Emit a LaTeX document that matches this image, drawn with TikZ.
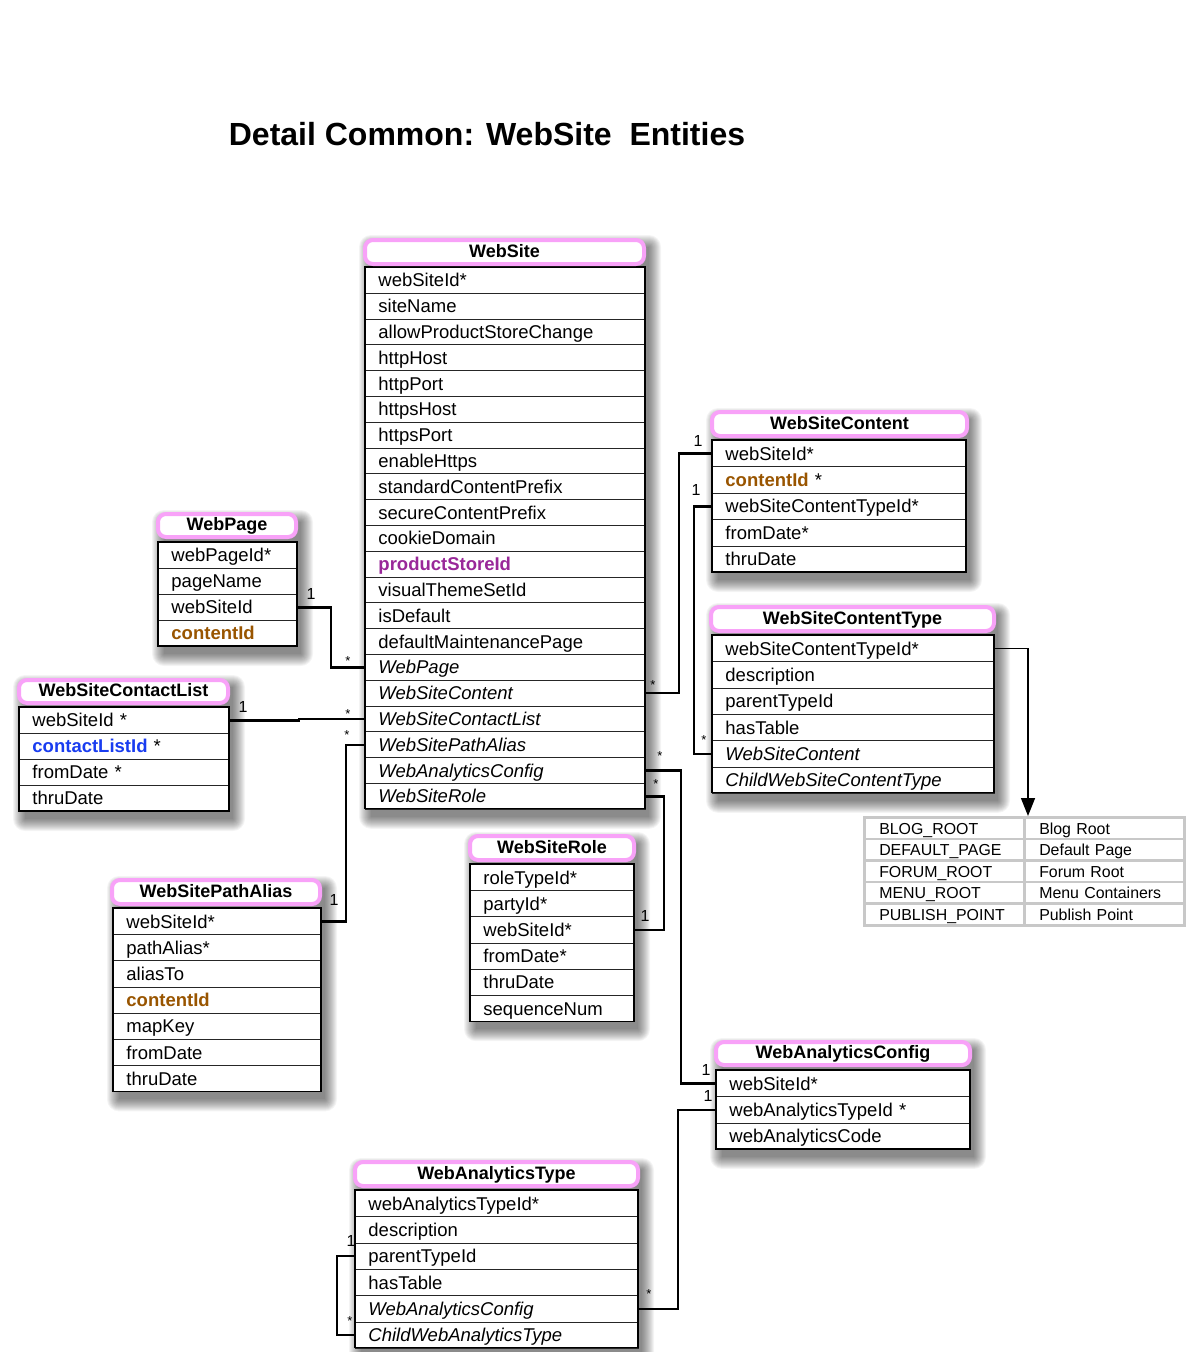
\documentclass[tikz,border=0pt]{standalone}
\usepackage{fontspec}
\setmainfont{Liberation Sans}
\usetikzlibrary{arrows.meta}
\definecolor{hpink}{RGB}{248,162,248}
\definecolor{cbrown}{RGB}{153,85,0}
\definecolor{cpurple}{RGB}{153,40,153}
\definecolor{cblue}{RGB}{25,60,240}
\definecolor{tgrey}{RGB}{200,200,200}
\pgfdeclarelayer{background}
\pgfdeclarelayer{canvas}
\pgfsetlayers{canvas,background,main}
\tikzset{
 hdr/.style={draw=hpink, line width=4pt, rounded corners=8pt, fill=white, font=\fontsize{18}{20}\selectfont\bfseries, inner sep=0pt, text height=12pt, text depth=2pt},
 row/.style={draw=black!85, line width=0.9pt, fill=white, inner xsep=13pt, inner ysep=0pt, align=left, font=\fontsize{18.5}{20}\selectfont, text height=14pt, text depth=1pt},
 outerbox/.style={draw=black, line width=1.3pt},
 conn/.style={draw=black, line width=2.4pt},
 one/.style={font=\fontsize{16}{18}\selectfont, inner sep=0pt},
 many/.style={font=\fontsize{13}{15}\selectfont, inner sep=0pt, yshift=-3pt},
 cell/.style={draw=tgrey, line width=2.5pt, fill=white, minimum width=160pt, minimum height=21.6pt, text width=130pt, inner xsep=15pt, inner ysep=0pt, align=left, anchor=north west, font=\fontsize{15.9}{17}\selectfont, text height=12pt, text depth=0pt},
 arr/.style={draw=black, line width=1.5pt, -{Triangle[width=14pt,length=18pt]}},
}
\newcommand\ehdr[6]{\node[hdr, minimum width=#4pt, minimum height=#5pt] (#1) at (#2,#3) {#6};}
\newcommand\ebody[7]{%
 \pgfmathsetmacro\etw{#4-26}%
 \pgfmathsetmacro\ebot{#3+#6*#5}%
 \begin{pgfonlayer}{background}
  \foreach \k in {0,...,12}{\fill[black, opacity=0.042, rounded corners=\k pt] ({#2+6-\k},{#3-20-\k}) rectangle ({#2+#4+4+\k},{\ebot+8+\k});}
 \end{pgfonlayer}
 \foreach \etxt [count=\i] in {#7}{
   \node[row, text width=\etw pt, minimum height=#5pt, anchor=north west] (#1-\i) at (#2,{#3+(\i-1)*#5}) {\etxt};}
 \draw[outerbox] (#2,#3) rectangle ({#2+#4},\ebot);
}
\begin{document}
\begin{tikzpicture}[x=1pt,y=-1pt]
\begin{pgfonlayer}{canvas}
\fill[white] (0,0) rectangle (1187,1352);
\end{pgfonlayer}
\useasboundingbox (0,0) rectangle (1187,1352);

\node[font=\fontsize{32}{36}\selectfont\bfseries] (title) at (487,134) {Detail Common: WebSite\ \ Entities};

% WebSite
\ebody{ws}{365}{267}{280}{25.8}{21}{webSiteId*, siteName, allowProductStoreChange, httpHost, httpPort, httpsHost, httpsPort, enableHttps, standardContentPrefix, secureContentPrefix, cookieDomain, {\bfseries\color{cpurple}productStoreId}, visualThemeSetId, isDefault, defaultMaintenancePage, {\itshape WebPage}, {\itshape WebSiteContent}, {\itshape WebSiteContactList}, {\itshape WebSitePathAlias}, {\itshape WebAnalyticsConfig}, {\itshape WebSiteRole}}
\ehdr{wsh}{504.5}{252}{279}{24}{WebSite}

% WebPage
\ebody{wp}{158}{542}{139}{26}{4}{webPageId*, pageName, webSiteId, {\bfseries\color{cbrown}contentId}}
\ehdr{wph}{227}{525.5}{138}{23}{WebPage}

% WebSiteContactList
\ebody{wcl}{19}{707}{210}{26}{4}{webSiteId *, {\bfseries\color{cblue}contactListId} *, fromDate *, thruDate}
\ehdr{wclh}{123.5}{691.5}{209}{23}{WebSiteContactList}

% WebSitePathAlias
\ebody{wpa}{113}{908}{208}{26.2}{7}{webSiteId*, pathAlias*, aliasTo, {\bfseries\color{cbrown}contentId}, mapKey, fromDate, thruDate}
\ehdr{wpah}{216}{892}{208}{24}{WebSitePathAlias}

% WebSiteRole
\ebody{wsr}{470}{864}{164}{26.2}{6}{roleTypeId*, partyId*, webSiteId*, fromDate*, thruDate, sequenceNum}
\ehdr{wsrh}{552}{848}{164}{24}{WebSiteRole}

% WebSiteContent
\ebody{wsc}{712}{440}{254}{26.4}{5}{webSiteId*, {\bfseries\color{cbrown}contentId} *, webSiteContentTypeId*, fromDate*, thruDate}
\ehdr{wsch}{839.5}{424}{255}{24}{WebSiteContent}

% WebSiteContentType
\ebody{wsct}{712}{635}{282}{26.3}{6}{webSiteContentTypeId*, description, parentTypeId, hasTable, {\itshape WebSiteContent}, {\itshape ChildWebSiteContentType}}
\ehdr{wscth}{852.5}{619}{283}{24}{WebSiteContentType}

% WebAnalyticsConfig
\ebody{wac}{716}{1070}{254}{26.3}{3}{webSiteId*, webAnalyticsTypeId *, webAnalyticsCode}
\ehdr{wach}{843}{1053.5}{254}{23}{WebAnalyticsConfig}

% WebAnalyticsType
\ebody{wat}{355}{1190}{283}{26.3}{6}{webAnalyticsTypeId*, description, parentTypeId, hasTable, {\itshape WebAnalyticsConfig}, {\itshape ChildWebAnalyticsType}}
\ehdr{wath}{496.5}{1174}{283}{24}{WebAnalyticsType}

% value table
\foreach \a/\b [count=\i] in {BLOG\_ROOT/Blog Root, DEFAULT\_PAGE/Default Page, FORUM\_ROOT/Forum Root, MENU\_ROOT/Menu Containers, PUBLISH\_POINT/Publish Point}{
  \node[cell] (tv-\i) at (863,{816+(\i-1)*21.6}) {\a};
  \node[cell] (td-\i) at (1023,{816+(\i-1)*21.6}) {\b};
}

% connectors
\draw[conn] (wp-3.east) -- ++(33,0) |- (ws-16.west);
\draw[conn] (wcl-1.east) -- ++(69,0) |- (ws-18.west);
\draw[conn] (ws-19.west) -- ++(-19,0) |- (wpa-1.east);
\draw[conn] (ws-17.east) -- ++(33,0) |- (wsc-1.west);
\draw[conn] (wsct-5.west) -- ++(-18,0) |- (wsc-3.west);
\draw[conn] (ws-20.east) -- ++(35,0) |- (wac-1.west);
\draw[conn] (ws-21.east) -- ++(18,0) |- (wsr-3.east);
\draw[conn] (wac-2.west) -- ++(-38,0) |- (wat-5.east);
\draw[conn] (wat-3.west) -- ++(-18,0) |- (wat-6.west);
\coordinate (arrx) at (1028,0);
\draw[arr] (wsct-1.east) -| (arrx |- tv-1.north);

% multiplicities
\node[one] (m1a) at (311,594) {1};   \node[many] (m1b) at (348,658) {*};
\node[one] (m2a) at (243,707) {1};   \node[many] (m2b) at (348,711) {*};
\node[many] (m3a) at (347,732) {*};  \node[one] (m3b) at (334,900) {1};
\node[many] (m4a) at (653,682) {*};  \node[one] (m4b) at (698,441) {1};
\node[one] (m5a) at (696,490) {1};   \node[many] (m5b) at (704,737) {*};
\node[many] (m6a) at (660,753) {*};  \node[one] (m6b) at (706,1070) {1};
\node[many] (m7a) at (656,781) {*};  \node[one] (m7b) at (645,916) {1};
\node[one] (m8a) at (708,1096) {1};  \node[many] (m8b) at (649,1291) {*};
\node[one] (m9a) at (351,1241) {1};  \node[many] (m9b) at (350,1318) {*};
\end{tikzpicture}
\end{document}
